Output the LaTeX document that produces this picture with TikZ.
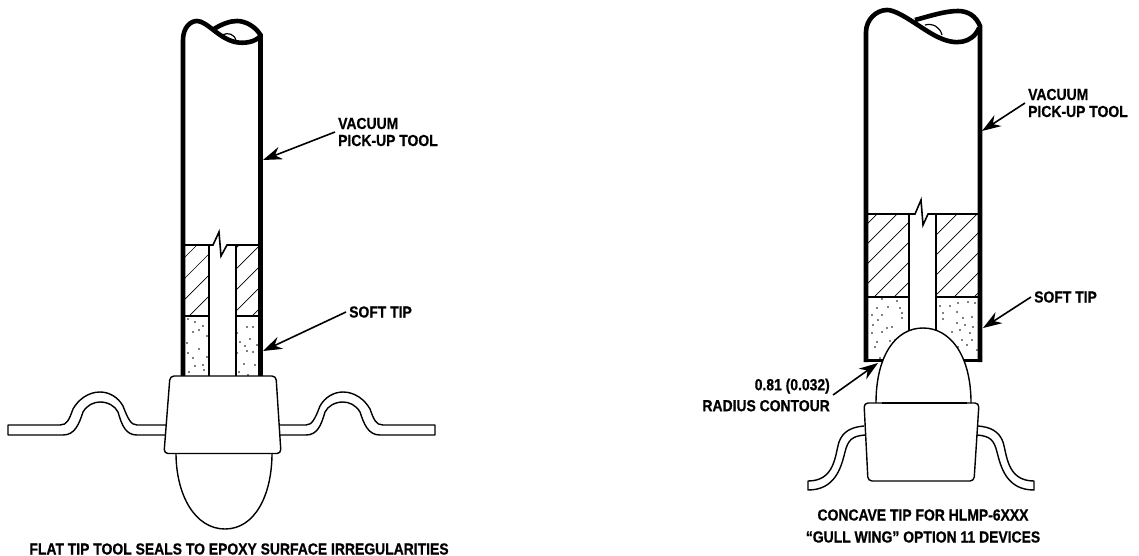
\documentclass[tikz,border=0pt]{standalone}
\usepackage{fontspec}
\setmainfont{Liberation Sans}[FakeStretch=0.87,FakeBold=0.7]
\usetikzlibrary{arrows.meta}
\tikzset{
wall/.style={line width=4.6pt},
part/.style={line width=1.4pt,fill=white,line join=round},
bore/.style={line width=1.6pt},
hatchline/.style={line width=0.7pt},
leader/.style={line width=1.6pt,-{Stealth[length=19pt,width=13pt]}},
lbl/.style={font=\fontsize{16}{16}\selectfont\bfseries,inner sep=3pt}
}
\newcommand{\flatlead}{
\draw[part,fill=none] (166,425) -- (137,425) .. controls (131,425) and (128,419) .. (123,406)
  .. controls (118,397) and (109,392) .. (100,392) .. controls (88,392) and (78,400) .. (73,409)
  .. controls (69,420) and (67,425) .. (60,425) -- (8,425) -- (8,435) -- (63,435)
  .. controls (75,435) and (79,424) .. (83,412) .. controls (87,405) and (94,402) .. (100,402)
  .. controls (108,402) and (115,406) .. (118,412) .. controls (122,426) and (126,435) .. (137,435) -- (165,435);
}
\newcommand{\gulllead}{
\draw[part,fill=none] (864,426) .. controls (852,427) and (843,431) .. (839,442)
  .. controls (835,455) and (835,481) .. (808,481) -- (808,490)
  .. controls (835,490) and (841,468) .. (845,452) .. controls (848,440) and (852,436) .. (865,435);
}
\begin{document}
\begin{tikzpicture}[x=1pt,y=-1pt]
\useasboundingbox (0,0) rectangle (1139,556);

\begin{scope}
\clip (185,245) rectangle (209,316) (236,245) rectangle (258,316);
\foreach \k in {442,463,...,570}
  \draw[hatchline] (180,\k-180) -- (265,\k-265);
\end{scope}
\foreach \x/\y in {188/319,195/322,203/326,199/330,193/332,207/336,199/349,187/343,188/353,207/357,193/358,195/366,203/365,189/372,204/370,247/327,253/327,237/333,250/339,240/342,257/345,245/346,247/351,253/352,237/353,244/364,255/365,239/372,248/375}
  \fill (\x,\y) circle (0.85);
\draw[bore] (185,245) -- (213,245) -- (219,232) -- (221,256) -- (227,245) -- (258,245);
\draw[bore] (185,316) -- (209,316) (236,316) -- (258,316);
\draw[bore] (209,245) -- (209,376) (236,245) -- (236,376);
\draw[wall,line join=round] (183,376) -- (183,40) .. controls (183,28) and (190,21) .. (197,21)
  .. controls (207,21) and (218,38) .. (235,42) .. controls (245,44) and (255,42) .. (260.5,36);
\draw[wall] (260.5,376) -- (260.5,35) .. controls (255,26) and (245,21) .. (237,21) .. controls (230,21) and (222,24) .. (214,29);
\draw[line width=1.2pt] (222,35) .. controls (228,32) and (235,34) .. (236,41);

\draw[part] (176,453) .. controls (176,495) and (195,529) .. (225,529) .. controls (255,529) and (272,495) .. (272,453);
\flatlead
\begin{scope}[shift={(443,0)},xscale=-1]
\flatlead
\end{scope}
\draw[part,rounded corners=4pt] (170,376) -- (276,376) -- (281,453.5) -- (164,453.5) -- cycle;

\node[lbl,align=left,anchor=west] (vacuumL) at (335,132) {VACUUM\\[1pt]PICK-UP TOOL};
\node[lbl,anchor=west] (softL) at (346,312) {SOFT TIP};
\node[lbl] (captionL) at (239,549) {FLAT TIP TOOL SEALS TO EPOXY SURFACE IRREGULARITIES};
\coordinate (vacuumLtip) at (263,160);
\coordinate (softLtip) at (263,351);
\draw[leader] (vacuumL.west) -- (vacuumLtip);
\draw[leader] (softL.west) -- (softLtip);

\begin{scope}
\clip (868,214) rectangle (909,297) (936,214) rectangle (978,297);
\foreach \k in {1091,1111,...,1275}
  \draw[hatchline] (860,\k-860) -- (990,\k-990);
\end{scope}
\foreach \x/\y in {882/299,897/301,877/308,888/307,900/308,872/315,882/315,878/320,902/313,902/318,873/325,892/327,887/328,872/333,882/332,895/340,875/347,880/358,890/341,877/342,940/306,950/306,958/303,968/302,975/303,943/313,957/312,963/318,972/317,943/319,957/323,965/325,973/327,960/330,952/332,970/333,962/340,967/345,977/350,958/347,972/340}
  \fill (\x,\y) circle (0.85);
\draw[bore] (868,214) -- (915,214) -- (921,200) -- (923,225) -- (928,214) -- (978,214);
\draw[bore] (868,297) -- (909,297) (936,297) -- (978,297);
\draw[bore] (909,214) -- (909,335) (936,214) -- (936,335);
\draw[wall,line join=round] (866,362) -- (866,32) .. controls (866,20) and (876,10) .. (887,10)
  .. controls (900,10) and (925,32) .. (940,38) .. controls (955,45) and (972,44) .. (979,28);
\draw[wall] (980,362) -- (980,26) .. controls (976,16) and (968,11) .. (958,11) .. controls (945,11) and (930,16) .. (915,20);
\draw[line width=1.2pt] (925,25) .. controls (933,23) and (940,27) .. (942,35);
\draw[line width=3.6pt] (864,360.5) -- (884,360.5) (961,360.5) -- (982,360.5);

\draw[part] (876,403) .. controls (876,355) and (896,328) .. (923,328) .. controls (950,328) and (971,355) .. (971,403);
\gulllead
\begin{scope}[shift={(1842,0)},xscale=-1]
\gulllead
\end{scope}
\draw[part,rounded corners=4pt] (864,403) -- (979,403) -- (974,481) -- (868,481) -- cycle;
\draw[line width=2pt] (882,402.5) -- (967,402.5);

\node[lbl,align=left,anchor=west] (vacuumR) at (1025,103) {VACUUM\\[1pt]PICK-UP TOOL};
\node[lbl,anchor=west] (softR) at (1031,297) {SOFT TIP};
\node[lbl,align=right,anchor=east] (radius) at (833,395) {0.81 (0.032)\\[5pt]RADIUS CONTOUR};
\node[lbl,align=center] (captionR) at (923,526) {CONCAVE TIP FOR HLMP-6XXX\\[6pt]“GULL WING” OPTION 11 DEVICES};
\coordinate (vacuumRtip) at (982,131);
\coordinate (softRtip) at (983,328);
\coordinate (radiusTip) at (878,363);
\draw[leader] (vacuumR.west) -- (vacuumRtip);
\draw[leader] (softR.west) -- (softRtip);
\draw[leader] (radius.east) -- (radiusTip);

\end{tikzpicture}
\end{document}
